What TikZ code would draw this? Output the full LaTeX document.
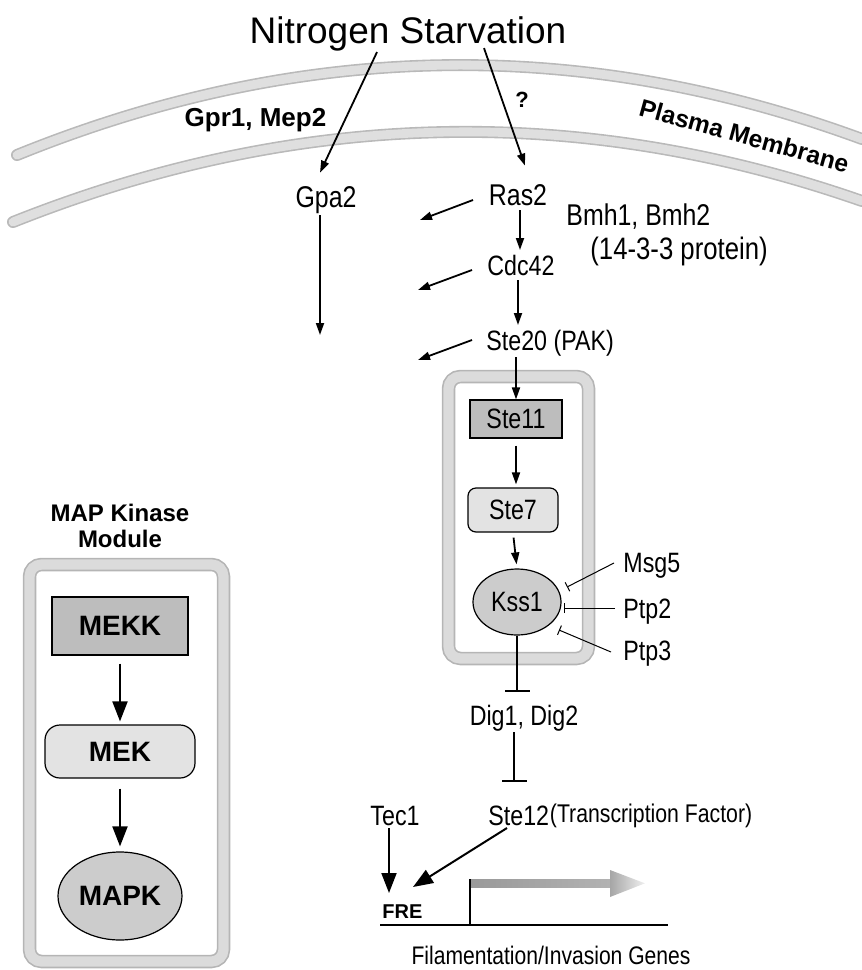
\documentclass[tikz,border=0pt]{standalone}
\usepackage{fontspec}
\setmainfont{Liberation Sans}
\newfontfamily\nar[FakeStretch=0.83]{Liberation Sans}
\usetikzlibrary{arrows.meta,shapes.geometric}
\begin{document}
\begin{tikzpicture}[x=0.5pt,y=-0.5pt,
  lbl/.style={inner sep=0pt, anchor=base, font=\nar\fontsize{14}{16}\selectfont},
  bld/.style={inner sep=0pt, anchor=base, font=\bfseries\fontsize{13}{15}\selectfont},
  arr/.style={-{Triangle[length=6pt,width=4pt]}, line width=0.9pt},
  bigarr/.style={-{Triangle[length=10pt,width=7.5pt]}, line width=1pt},
  inh/.style={-{Bar[width=5pt,line width=0.5pt]}, line width=0.5pt},
  biginh/.style={-{Bar[width=12.5pt,line width=1pt]}, line width=1pt},
  memout/.style={line width=6pt, draw=gray!55, line cap=round},
  memin/.style={line width=4.4pt, draw=gray!25, line cap=round},
  boxout/.style={line width=6.75pt, draw=gray!58, rounded corners=6pt},
  boxin/.style={line width=5.1pt, draw=gray!28, rounded corners=6pt},
  darkbox/.style={draw, line width=0.6pt, fill=gray!52, inner sep=0pt},
  lightbox/.style={draw, line width=0.6pt, fill=gray!22, inner sep=0pt},
  oval/.style={ellipse, draw, line width=0.6pt, fill=gray!40, inner sep=0pt},
]
\clip (0,0) rectangle (862,970);

% plasma membrane
\draw[memout] (17,155) .. controls (298.7,40.7) and (580.3,35.4) .. (862,139);
\draw[memin]  (17,155) .. controls (298.7,40.7) and (580.3,35.4) .. (862,139);
\draw[memout] (13,222) .. controls (296,109.3) and (579,102.3) .. (862,201);
\draw[memin]  (13,222) .. controls (296,109.3) and (579,102.3) .. (862,201);
\node[inner sep=0pt, anchor=base, rotate=-15.5, font=\bfseries\fontsize{12.3}{15}\selectfont] (pm) at (742,144) {Plasma Membrane};

% module frames
\draw[boxout] (448.5,376.5) rectangle (588.5,658.5);
\draw[boxin]  (448.5,376.5) rectangle (588.5,658.5);
\draw[boxout] (29.5,564.5) rectangle (223.5,961.5);
\draw[boxin]  (29.5,564.5) rectangle (223.5,961.5);

% labels
\node[inner sep=0pt, anchor=base, font=\fontsize{18.5}{21}\selectfont] (title) at (408,43) {Nitrogen Starvation};
\node[bld] (gpr) at (255.5,126.7) {Gpr1, Mep2};
\node[bld, font=\bfseries\fontsize{11}{13}\selectfont] (q) at (522,107) {?};
\node[lbl, font=\nar\fontsize{15}{17}\selectfont] (gpa2) at (326,207) {Gpa2};
\node[lbl, font=\nar\fontsize{15}{17}\selectfont] (ras2) at (518,205) {Ras2};
\node[lbl, anchor=base west, font=\nar\fontsize{15}{17}\selectfont] (bmh) at (566,225) {Bmh1, Bmh2};
\node[lbl, anchor=base west, font=\nar\fontsize{15.5}{17}\selectfont] (prot) at (590,259) {(14-3-3 protein)};
\node[lbl] (cdc42) at (521,275) {Cdc42};
\node[lbl, anchor=base west] (ste20) at (486,350) {Ste20 (PAK)};

\node[darkbox, minimum width=46pt, minimum height=19pt, font=\nar\fontsize{14}{16}\selectfont] (ste11) at (516,419) {Ste11};
\node[lightbox, rounded corners=4pt, minimum width=45pt, minimum height=22pt, font=\nar\fontsize{14}{16}\selectfont] (ste7) at (513,510) {Ste7};
\node[oval, minimum width=44pt, minimum height=33pt, font=\nar\fontsize{14}{16}\selectfont] (kss1) at (517,602) {Kss1};

\node[lbl, anchor=base west] (msg5) at (623,572) {Msg5};
\node[lbl, anchor=base west] (ptp2) at (623,618) {Ptp2};
\node[lbl, anchor=base west] (ptp3) at (623,660) {Ptp3};
\node[lbl] (dig) at (524,725) {Dig1, Dig2};
\node[lbl] (tec1) at (395,825) {Tec1};
\node[lbl, anchor=base west] (ste12) at (488,825) {Ste12};
\node[lbl, anchor=base west, font=\nar\fontsize{12.8}{15}\selectfont] (tf) at ([yshift=1.5pt]ste12.base east) {(Transcription Factor)};
\node[inner sep=0pt, anchor=base west, font=\bfseries\fontsize{10}{12}\selectfont] (fre) at (382,918) {FRE};
\node[lbl, font=\nar\fontsize{12.7}{15}\selectfont] (fil) at (551,964) {Filamentation/Invasion Genes};

\node[bld, font=\bfseries\fontsize{12}{14}\selectfont] (mk1) at (120,521) {MAP Kinase};
\node[bld, font=\bfseries\fontsize{12}{14}\selectfont] (mk2) at (120,547) {Module};
\node[darkbox, minimum width=68pt, minimum height=29pt, font=\bfseries\fontsize{14}{16}\selectfont] (mekk) at (120,626) {MEKK};
\node[lightbox, rounded corners=7.5pt, minimum width=75pt, minimum height=26.5pt, font=\bfseries\fontsize{14}{16}\selectfont] (mek) at (120,751.5) {MEK};
\node[oval, minimum width=62pt, minimum height=44pt, font=\bfseries\fontsize{14}{16}\selectfont] (mapk) at (120,896) {MAPK};

% arrows from nitrogen starvation
\draw[arr] ([shift={(-31,1)}]title.south) -- ([shift={(-6,-13)}]gpa2.north);
\draw[arr] ([shift={(76,-3)}]title.south) -- ([shift={(7,-18)}]ras2.north);
\coordinate (gpaend) at (320,335);
\draw[arr] ([shift={(-6,8)}]gpa2.base) -- (gpaend);

% side arrows
\coordinate (e1) at (420,220);
\coordinate (e2) at (418,290);
\coordinate (e3) at (418,360);
\draw[arr] ([shift={(-45,-5)}]ras2.base) -- (e1);
\draw[arr] ([shift={(-49,-5)}]cdc42.base) -- (e2);
\draw[arr] ([shift={(-14,-10)}]ste20.base west) -- (e3);

% main cascade
\draw[arr] ([shift={(2,5)}]ras2.base) -- ([shift={(-1,-25)}]cdc42.base);
\draw[arr] ([shift={(-3,5)}]cdc42.base) -- ([shift={(32,-25)}]ste20.base west);
\draw[arr] ([shift={(30,7)}]ste20.base west) -- (ste11.north);
\draw[arr, shorten <=3.5pt, shorten >=1.5pt] (ste11.south) -- (ste11.south |- ste7.north);
\draw[arr, shorten <=2.5pt, shorten >=2pt] (ste7.south) -- (kss1.north);
\draw[biginh, shorten >=6pt] (kss1.south) -- (kss1.south |- dig.north);
\coordinate (digb) at ([xshift=-5pt]dig.south);
\draw[biginh, shorten <=0.5pt, shorten >=11.5pt] (digb) -- (digb |- ste12.north);

% phosphatases
\draw[inh] ([shift={(-9,-9)}]msg5.base west) -- ([shift={(50,-15)}]kss1.center);
\draw[inh] ([shift={(-8,-10)}]ptp2.base west) -- ([shift={(47,6)}]kss1.center);
\draw[inh] ([shift={(-12,-8)}]ptp3.base west) -- ([shift={(42,28)}]kss1.center);

% transcription
\draw[bigarr] ([shift={(-6,3)}]tec1.base) -- ([shift={(7,-25)}]fre.base west);
\draw[bigarr] ([shift={(19,3)}]ste12.base west) -- ([shift={(31,-31)}]fre.base west);

% gene
\draw[line width=1pt] (380,925) -- (668,925);
\shade[left color=gray!80, right color=gray!60] (470,879) rectangle (612,887);
\shade[left color=gray!70, right color=gray!12] (610,870) -- (645,883.3) -- (610,897) -- cycle;
\draw[line width=1pt] (470,925) -- (470,879);

% left module
\draw[bigarr, shorten <=4pt, shorten >=1.5pt] (mekk.south) -- (mek.north);
\draw[bigarr, shorten <=5pt, shorten >=2.5pt] (mek.south) -- (mapk.north);
\end{tikzpicture}
\end{document}
